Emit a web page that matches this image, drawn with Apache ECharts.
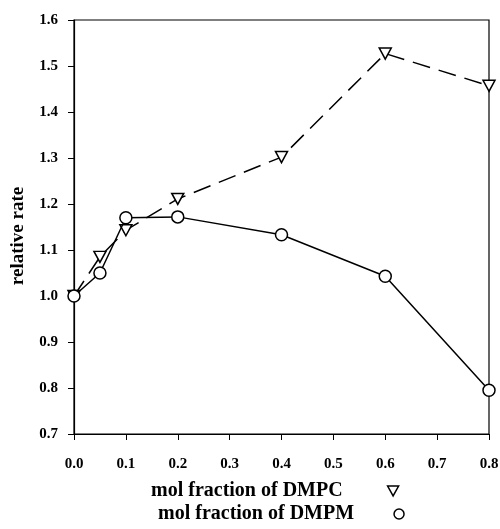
<!DOCTYPE html>
<html>
<head>
<meta charset="utf-8">
<script src="https://cdn.jsdelivr.net/npm/echarts@6/dist/echarts.min.js"></script>
<style>
  html, body { margin: 0; padding: 0; background: #fff; }
  #chart { width: 500px; height: 529px; }
</style>
</head>
<body>
<div id="chart"></div>
<script>
// mol fraction (x) and relative rate (y)
const xDMPC = [0.0, 0.05, 0.1, 0.2, 0.4, 0.6, 0.8];
const yDMPC = [1.0, 1.085, 1.143, 1.211, 1.302, 1.527, 1.457];
const xDMPM = [0.0, 0.05, 0.1, 0.2, 0.4, 0.6, 0.8];
const yDMPM = [1.0, 1.05, 1.17, 1.172, 1.133, 1.043, 0.795];

const seriesNames = ["mol fraction of DMPC", "mol fraction of DMPM"];

const font = "Liberation Serif";
const downTriangle = "path://M0,0L10,0L5,9Z";

const chart = echarts.init(document.getElementById("chart"));

const option = {
  backgroundColor: "#fff",
  animation: false,
  textStyle: { fontFamily: font, color: "#000" },
  grid: {
    left: 74,
    right: 11,
    top: 20,
    bottom: 95,
    containLabel: false,
    outerBoundsMode: "none",
    show: true,
    borderColor: "#000",
    borderWidth: 1.2,
  },
  legend: [
    {
      data: [seriesNames[0]],
      left: 146,
      top: 476,
      align: "right",
      icon: downTriangle,
      itemWidth: 11,
      itemHeight: 10,
      itemStyle: { color: "#fff", borderColor: "#000", borderWidth: 1.5 },
      lineStyle: { width: 0 },
      textStyle: { fontFamily: font, fontWeight: "bold", fontSize: 20, color: "#000", padding: [0, 40, 0, 0] },
    },
    {
      data: [seriesNames[1]],
      left: 153,
      top: 499,
      align: "right",
      icon: "circle",
      itemWidth: 10,
      itemHeight: 10,
      itemStyle: { color: "#fff", borderColor: "#000", borderWidth: 1.5 },
      lineStyle: { width: 0 },
      textStyle: { fontFamily: font, fontWeight: "bold", fontSize: 20, color: "#000", padding: [0, 35, 0, 0] },
    },
  ],
  xAxis: {
    type: "value",
    min: 0,
    max: 0.8,
    interval: 0.1,
    axisLine: { show: true, lineStyle: { color: "#000", width: 1.2 } },
    axisTick: { show: true, inside: false, length: 6, lineStyle: { color: "#000" } },
    axisLabel: {
      margin: 23,
      fontFamily: font,
      fontWeight: "bold",
      fontSize: 15,
      color: "#000",
      formatter: (v) => v.toFixed(1),
    },
    splitLine: { show: false },
  },
  yAxis: {
    type: "value",
    min: 0.7,
    max: 1.6,
    interval: 0.1,
    name: "relative rate",
    nameLocation: "middle",
    nameRotate: 90,
    nameGap: 46,
    nameTextStyle: { fontFamily: font, fontWeight: "bold", fontSize: 19, color: "#000", padding: [0, 18, 0, 0] },
    axisLine: { show: true, lineStyle: { color: "#000", width: 1.2 } },
    axisTick: { show: true, inside: false, length: 6, lineStyle: { color: "#000" } },
    axisLabel: {
      margin: 16,
      fontFamily: font,
      fontWeight: "bold",
      fontSize: 15,
      color: "#000",
      formatter: (v) => v.toFixed(1),
    },
    splitLine: { show: false },
  },
  series: [
    {
      name: seriesNames[0],
      type: "line",
      data: xDMPC.map((x, i) => [x, yDMPC[i]]),
      symbol: "triangle",
      symbolRotate: 180,
      symbolSize: [12, 11],
      showAllSymbol: true,
      lineStyle: { color: "#000", width: 1.5, type: [18, 9] },
      itemStyle: { color: "#fff", borderColor: "#000", borderWidth: 1.5 },
      z: 2,
    },
    {
      name: seriesNames[1],
      type: "line",
      data: xDMPM.map((x, i) => [x, yDMPM[i]]),
      symbol: "circle",
      symbolSize: 12,
      showAllSymbol: true,
      lineStyle: { color: "#000", width: 1.5 },
      itemStyle: { color: "#fff", borderColor: "#000", borderWidth: 1.5 },
      z: 3,
    },
  ],
};

chart.setOption(option);
</script>
</body>
</html>
